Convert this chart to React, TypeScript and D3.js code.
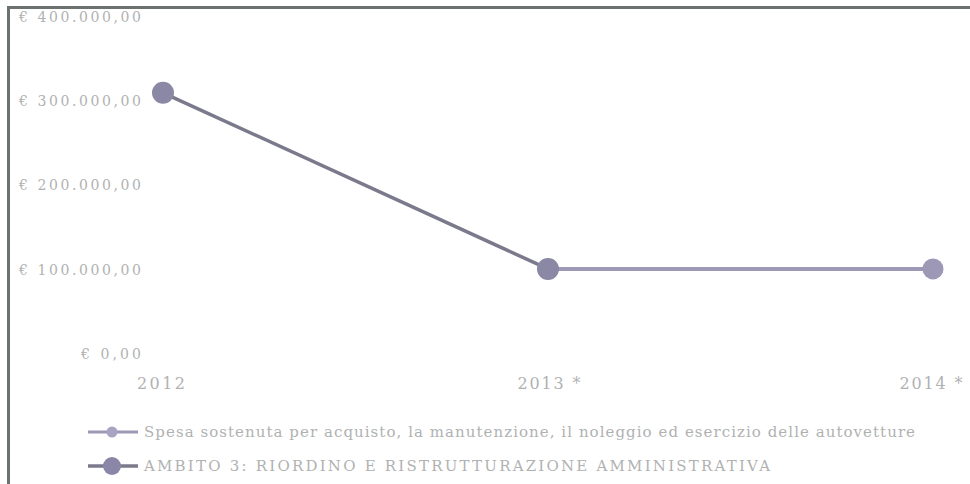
import React from "react";
import * as d3 from "d3";

const years = ["2012", "2013 *", "2014 *"];
const ambitoValues: (number | null)[] = [310000, 101000, null];
const spesaValues: (number | null)[] = [null, 101000, 101000];
const yTicks = [0, 100000, 200000, 300000, 400000];
const yTickLabels = ["€ 0,00", "€ 100.000,00", "€ 200.000,00", "€ 300.000,00", "€ 400.000,00"];
const legendLabels = [
  "Spesa sostenuta per acquisto, la manutenzione, il noleggio ed esercizio delle autovetture",
  "AMBITO 3: RIORDINO E RISTRUTTURAZIONE AMMINISTRATIVA",
];

const W = 970;
const H = 484;

export default function App() {
  const x = d3.scalePoint<string>().domain(years).range([163, 933]);
  const y = d3.scaleLinear().domain([0, 400000]).range([354, 17]);
  const line = d3
    .line<number | null>()
    .defined((d) => d != null)
    .x((_, i) => x(years[i]) as number)
    .y((d) => y(d as number));
  const font = "'DejaVu Serif', 'Liberation Serif', serif";
  const textColor = "#b0b2b2";
  const ambitoColor = "#7b7a8c";
  const spesaColor = "#9c98b6";
  const yLabelWidths = [60, 122, 122, 122, 122];
  const xLabelWidths = [48, 63, 63];
  const xLabelCenters = [161, 549, 931];
  return (
    <svg
      width={W}
      height={H}
      style={{ position: "absolute", left: 0, top: 0, background: "#fff" }}
    >
      {/* frame */}
      <line x1={8} x2={W} y1={7.5} y2={7.5} stroke="#6b7270" strokeWidth={3} />
      <line x1={8.5} x2={8.5} y1={6} y2={H} stroke="#6b7270" strokeWidth={3} />
      {/* y tick labels */}
      {yTicks.map((t, i) => (
        <text
          key={t}
          x={141}
          y={y(t)}
          dy="0.35em"
          textAnchor="end"
          fontFamily={font}
          fontSize={14}
          fill={textColor}
          textLength={yLabelWidths[i]}
          lengthAdjust="spacing"
        >
          {yTickLabels[i]}
        </text>
      ))}
      {/* x labels */}
      {years.map((yr, i) => (
        <text
          key={yr}
          x={xLabelCenters[i]}
          y={389}
          textAnchor="middle"
          fontFamily={font}
          fontSize={16}
          fill={textColor}
          textLength={xLabelWidths[i]}
          lengthAdjust="spacing"
        >
          {yr}
        </text>
      ))}
      {/* series lines */}
      <path d={line(spesaValues) || ""} fill="none" stroke={spesaColor} strokeWidth={4} />
      <path d={line(ambitoValues) || ""} fill="none" stroke={ambitoColor} strokeWidth={3.5} />
      {spesaValues.map((v, i) =>
        v == null ? null : (
          <circle key={"s" + i} cx={x(years[i])} cy={y(v)} r={10.5} fill={spesaColor} />
        )
      )}
      {ambitoValues.map((v, i) =>
        v == null ? null : (
          <circle key={"a" + i} cx={x(years[i])} cy={y(v)} r={11} fill="#8a88a4" />
        )
      )}
      {/* legend */}
      <g>
        <line x1={88} x2={138} y1={432} y2={432} stroke={spesaColor} strokeWidth={3} />
        <circle cx={112} cy={432} r={5.5} fill="#a8a4c4" />
        <text
          x={144}
          y={432}
          dy="0.35em"
          fontFamily={font}
          fontSize={15}
          fill={textColor}
          textLength={771}
          lengthAdjust="spacing"
        >
          {legendLabels[0]}
        </text>
        <line x1={88} x2={138} y1={466} y2={466} stroke={ambitoColor} strokeWidth={3.5} />
        <circle cx={112} cy={466} r={9} fill="#8a86a8" />
        <text
          x={144}
          y={466}
          dy="0.35em"
          fontFamily={font}
          fontSize={15}
          fill={textColor}
          textLength={626}
          lengthAdjust="spacing"
        >
          {legendLabels[1]}
        </text>
      </g>
    </svg>
  );
}
